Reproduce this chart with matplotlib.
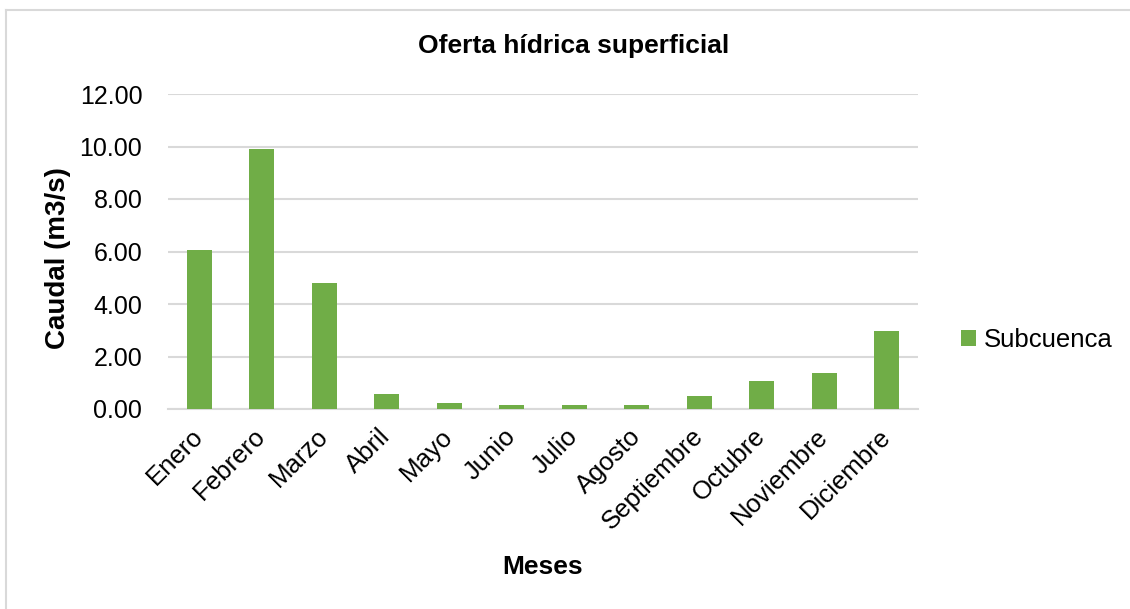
import matplotlib
matplotlib.use("Agg")
import matplotlib.pyplot as plt
from matplotlib.lines import Line2D

plt.rcParams['font.family'] = ['Liberation Sans', 'DejaVu Sans']

months = ["Enero", "Febrero", "Marzo", "Abril", "Mayo", "Junio", "Julio",
          "Agosto", "Septiembre", "Octubre", "Noviembre", "Diciembre"]
caudal = [6.06, 9.89, 4.80, 0.57, 0.23, 0.15, 0.15, 0.15, 0.51, 1.07, 1.36, 2.97]
yticks = [0, 2, 4, 6, 8, 10, 12]
series_name = "Subcuenca"

W, H = 1130, 609
fig = plt.figure(figsize=(W / 100, H / 100), dpi=100)
ax = fig.add_axes([168 / W, 1 - 409 / H, 750 / W, 315 / H])

x = range(len(months))
ax.bar(x, caudal, width=0.4, color="#70ad47", label=series_name, zorder=3)
ax.set_xlim(-0.5, len(months) - 0.5)
ax.set_ylim(0, 12)
ax.set_yticks(yticks)
ax.set_yticklabels([f"{v:.2f}" for v in yticks], fontsize=18)
ax.set_xticks(list(x))
ax.set_xticklabels(months, rotation=45, ha="right", va="center",
                   rotation_mode="anchor", fontsize=18.5)
ax.tick_params(axis="y", length=0, pad=18.5)
ax.tick_params(axis="x", length=0, pad=17)
ax.grid(axis="y", color="#d9d9d9", linewidth=1.5, zorder=0)
for s in ["top", "right", "left"]:
    ax.spines[s].set_visible(False)
ax.spines["bottom"].set_color("#d9d9d9")
ax.spines["bottom"].set_linewidth(1.5)

fig.text(58 / W, 1 - 258 / H, "Caudal (m3/s)", fontsize=20, fontweight="bold",
         rotation=90, ha="center", va="center")
fig.text(543 / W, 1 - 567 / H, "Meses", fontsize=19, fontweight="bold",
         ha="center", va="center")
fig.text(574 / W, 1 - 46 / H, "Oferta hídrica superficial", fontsize=19,
         fontweight="bold", ha="center", va="center")

fig.legend(loc="center left", bbox_to_anchor=(961 / W, 1 - 340 / H), frameon=False,
           fontsize=18.5, handlelength=0.57, handleheight=0.57, handletextpad=0.3,
           borderpad=0, borderaxespad=0)

# chart-area border (left and top edges visible)
fig.lines.append(Line2D([6 / W, 6 / W], [0, 1 - 10 / H], transform=fig.transFigure,
                        color="#d9d9d9", linewidth=1.5))
fig.lines.append(Line2D([6 / W, 1], [1 - 10 / H, 1 - 10 / H], transform=fig.transFigure,
                        color="#d9d9d9", linewidth=1.5))

fig.savefig("out.png", dpi=100)
